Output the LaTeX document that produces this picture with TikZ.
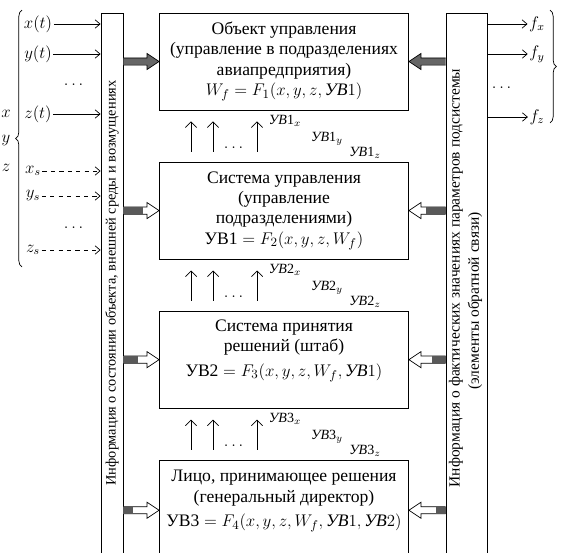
\documentclass[tikz,border=0pt]{standalone}
\usepackage{fontspec}
\setmainfont{Liberation Serif}
\usepackage{amsmath}
\usetikzlibrary{arrows.meta, positioning, calc, decorations.pathreplacing}

% hollow block arrow from a bar to a box, #4 = length of the dark part
\newcommand{\fatarrow}[4][white]{%
  \coordinate (fs) at (#2);
  \coordinate (ft) at (#3);
  \coordinate (fh) at ($(ft)!0.3cm!(fs)$);
  \filldraw[fill=#1, line width=0.5pt] ($(fs)+(0,0.09cm)$) -- ($(fh)+(0,0.09cm)$) -- ($(fh)+(0,0.2cm)$) -- (ft)
    -- ($(fh)+(0,-0.2cm)$) -- ($(fh)+(0,-0.09cm)$) -- ($(fs)+(0,-0.09cm)$);
  \fill[black!65] ($(fs)+(0,0.09cm)$) rectangle ($(fs)!#4!(ft)+(0,-0.09cm)$);
}

\begin{document}
\begin{tikzpicture}[
x=0.025cm, y=-0.025cm,
node distance=1.28cm,
box/.style={rectangle, draw, line width=0.6pt, align=center, minimum width=6.225cm, minimum height=2.425cm, inner sep=2pt, font=\fontsize{12.5}{14.5}\selectfont},
bar/.style={rectangle, draw, line width=0.6pt, anchor=north, minimum height=14.7cm},
vtext/.style={rotate=90, inner sep=0pt, font=\fontsize{11}{13}\selectfont},
lab/.style={inner sep=1pt, font=\fontsize{12}{14}\selectfont},
sublab/.style={inner sep=0pt, font=\fontsize{10}{12}\selectfont},
arrow/.style={-{Straight Barb[length=3.5pt, width=6pt]}, line width=0.5pt},
uparrow/.style={-{Straight Barb[length=4pt, width=8pt]}, line width=0.5pt},
brace/.style={decorate, decoration={brace, amplitude=4.5pt}, line width=0.5pt}
]
\useasboundingbox (0,0) rectangle (561,553);
\clip (0,0) rectangle (561,553);

% bars with information
\node[bar, minimum width=0.55cm] (lbar) at (112,13) {};
\node[bar, minimum width=1.025cm] (rbar) at (466.5,13) {};
\node[vtext, font=\fontsize{10.2}{12}\selectfont] (linfo) at (112,283) {Информация о состоянии объекта, внешней среды и возмущениях};
\node[vtext] (rinfo) at (456,278) {Информация о фактических значениях параметров подсистемы};
\node[vtext] (rfeed) at (475,301) {(элементы обратной связи)};

% levels
\node[box] (obj) at (284,61.5) {Объект управления\\(управление в подразделениях\\авиапредприятия)\\$W_f = F_1(x,y,z,\text{\itshape УВ}1)$};
\node[box, below=of obj] (ctrl) {Система управления\\(управление\\подразделениями)\\УВ1${}= F_2(x,y,z,W_f)$};
\node[box, below=of ctrl] (staff) {Система принятия\\решений (штаб)\\[3pt]УВ2${}= F_3(x,y,z,W_f,\text{\itshape УВ}1)$\\[2pt]};
\node[box, below=of staff, minimum height=2.5cm] (head) {Лицо, принимающее решения\\(генеральный директор)\\[3pt]УВ3${}= F_4(x,y,z,W_f,\text{\itshape УВ}1,\text{\itshape УВ}2)$\\[2pt]};

% inputs
\node[lab] (xt) at (38,24) {$x(t)$};
\node[lab] (yt) at (38,54) {$y(t)$};
\node[lab] (zt) at (38,114) {$z(t)$};
\node[lab] (xs) at (33,171) {$x_s$};
\node[lab] (ys) at (33,196) {$y_s$};
\node[lab] (zs) at (33,250) {$z_s$};
\node[lab] (ldots1) at (75,85) {$\dots$};
\node[lab] (ldots2) at (75,228) {$\dots$};
\draw[arrow] (xt) -- (xt -| lbar.west);
\draw[arrow] (yt) -- (yt -| lbar.west);
\draw[arrow] (zt) -- (zt -| lbar.west);
\draw[arrow, dashed] (xs) -- (xs -| lbar.west);
\draw[arrow, dashed] (ys) -- (ys -| lbar.west);
\draw[arrow, dashed] (zs) -- (zs -| lbar.west);
\draw[brace] (22,267) -- (22,10);
\node[lab] (vx) at (6,114) {$x$};
\node[lab] (vy) at (6,141) {$y$};
\node[lab] (vz) at (6,168) {$z$};

% outputs
\node[lab] (fx) at (537,24) {$f_x$};
\node[lab] (fy) at (537,54) {$f_y$};
\node[lab] (fz) at (537,117) {$f_z$};
\node[lab] (rdots) at (503,88) {$\dots$};
\draw[arrow] (rbar.east |- fx) -- (fx.west);
\draw[arrow] (rbar.east |- fy) -- (fy.west);
\draw[arrow] (rbar.east |- fz) -- (fz.west);
\draw[brace] (550,10) -- (550,123);

% block arrows
\fatarrow[black!60]{lbar.east |- obj.west}{obj.west}{0cm}
\fatarrow[black!60]{rbar.west |- obj.east}{obj.east}{0cm}
\fatarrow{lbar.east |- ctrl.west}{ctrl.west}{0.5cm}
\fatarrow{rbar.west |- ctrl.east}{ctrl.east}{0.5cm}
\fatarrow{lbar.east |- staff.west}{staff.west}{0.37cm}
\fatarrow{rbar.west |- staff.east}{staff.east}{0.35cm}
\fatarrow{lbar.east |- head.west}{head.west}{0.23cm}
\fatarrow{rbar.west |- head.east}{head.east}{0.25cm}

% control actions between levels
\draw[uparrow] ($(ctrl.north west)+(32,-10)$) -- ($(obj.south west)+(32,11)$);
\draw[uparrow] ($(ctrl.north west)+(54,-10)$) -- ($(obj.south west)+(54,11)$);
\draw[uparrow] ($(ctrl.north west)+(98,-10)$) -- ($(obj.south west)+(98,11)$);
\node[lab] (dots1) at ($(ctrl.north west)+(76,-14)$) {$\dots$};
\node[sublab] (u1x) at ($(obj.south west)+(126,10)$) {\textit{УВ}1$_x$};
\node[sublab] (u1y) at ($(obj.south west)+(168,28)$) {\textit{УВ}1$_y$};
\node[sublab] (u1z) at ($(obj.south west)+(206,42)$) {\textit{УВ}1$_z$};

\draw[uparrow] ($(staff.north west)+(32,-10)$) -- ($(ctrl.south west)+(32,11)$);
\draw[uparrow] ($(staff.north west)+(54,-10)$) -- ($(ctrl.south west)+(54,11)$);
\draw[uparrow] ($(staff.north west)+(98,-10)$) -- ($(ctrl.south west)+(98,11)$);
\node[lab] (dots2) at ($(staff.north west)+(76,-14)$) {$\dots$};
\node[sublab] (u2x) at ($(ctrl.south west)+(126,10)$) {\textit{УВ}2$_x$};
\node[sublab] (u2y) at ($(ctrl.south west)+(168,28)$) {\textit{УВ}2$_y$};
\node[sublab] (u2z) at ($(ctrl.south west)+(206,42)$) {\textit{УВ}2$_z$};

\draw[uparrow] ($(head.north west)+(32,-10)$) -- ($(staff.south west)+(32,11)$);
\draw[uparrow] ($(head.north west)+(54,-10)$) -- ($(staff.south west)+(54,11)$);
\draw[uparrow] ($(head.north west)+(98,-10)$) -- ($(staff.south west)+(98,11)$);
\node[lab] (dots3) at ($(head.north west)+(76,-14)$) {$\dots$};
\node[sublab] (u3x) at ($(staff.south west)+(126,10)$) {\textit{УВ}3$_x$};
\node[sublab] (u3y) at ($(staff.south west)+(168,28)$) {\textit{УВ}3$_y$};
\node[sublab] (u3z) at ($(staff.south west)+(206,42)$) {\textit{УВ}3$_z$};

\end{tikzpicture}
\end{document}
